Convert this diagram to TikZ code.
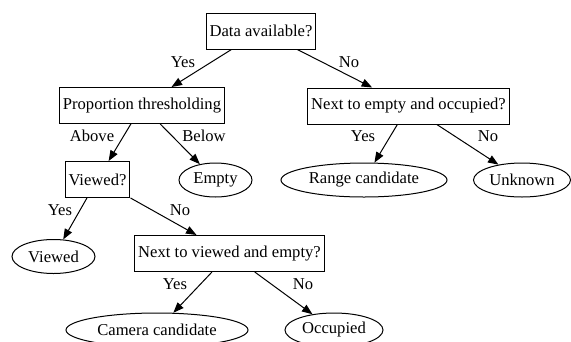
\documentclass[tikz,border=0pt]{standalone}
\usepackage{fontspec}
\setmainfont{Liberation Serif}
\usetikzlibrary{shapes.geometric,arrows.meta}
\begin{document}
\begin{tikzpicture}[x=1pt,y=-1pt,
    font=\fontsize{16.6}{19}\selectfont,
    decision/.style = {draw, line width=1pt, rectangle, minimum height=36pt, inner xsep=3.5pt, inner ysep=0pt},
    leaf/.style = {draw, line width=1pt, ellipse, minimum height=34pt, inner sep=0pt},
    edge/.style = {line width=1pt, -{Triangle[length=10.5pt,width=8pt]}}]
                \useasboundingbox (0,0) rectangle (571,341);
                \node[decision] (data) at (261,31) {Data available?};
                \node[decision] (prop) at (142,105.5) {Proportion thresholding};
                \node[decision] (nexteo) at (408.5,106) {Next to empty and occupied?};
                \node[decision] (viewedq) at (97.5,179.5) {Viewed?};
                \node[decision] (nextve) at (229.5,253.5) {Next to viewed and empty?};
                \node[leaf, minimum width=73pt] (empty) at (215.5,180) {Empty};
                \node[leaf, minimum width=166pt] (range) at (364,180) {Range candidate};
                \node[leaf, minimum width=97pt] (unknown) at (522,180) {Unknown};
                \node[leaf, minimum width=83pt] (viewed) at (53.5,256.5) {Viewed};
                \node[leaf, minimum width=182pt] (camera) at (157,330) {Camera candidate};
                \node[leaf, minimum width=98pt] (occupied) at (334,330) {Occupied};
                \draw[edge] (data) -- (prop);
                \draw[edge] (data) -- (nexteo);
                \draw[edge] (prop) -- (viewedq);
                \draw[edge] (prop) -- (empty);
                \draw[edge] (nexteo) -- (range);
                \draw[edge] (nexteo) -- (unknown);
                \draw[edge] (viewedq) -- (viewed);
                \draw[edge] (viewedq) -- (nextve);
                \draw[edge] (nextve) -- (camera);
                \draw[edge] (nextve) -- (occupied);
                \node (yesdata) at (183,62) {Yes};
                \node (nodata) at (349,62) {No};
                \node (above) at (92,136) {Above};
                \node (below) at (204,136) {Below};
                \node (yeseo) at (363,136) {Yes};
                \node (noeo) at (488,136) {No};
                \node (yesview) at (60,210) {Yes};
                \node (noview) at (180,210) {No};
                \node (yesve) at (175,284) {Yes};
                \node (nove) at (303,284) {No};
            \end{tikzpicture}
\end{document}
